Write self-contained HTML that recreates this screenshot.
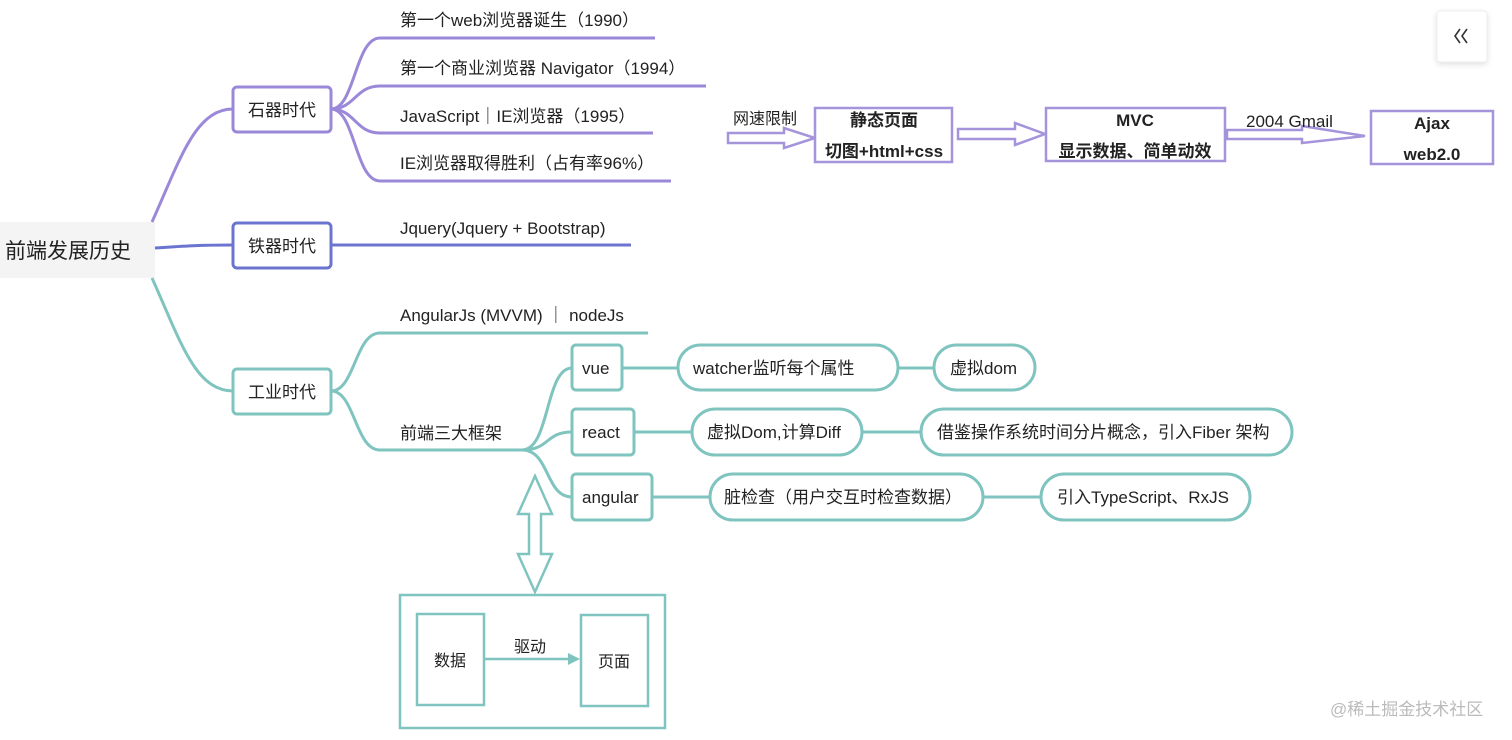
<!DOCTYPE html>
<html><head><meta charset="utf-8"><style>
body{margin:0;width:1512px;height:740px;background:#fff;overflow:hidden}
svg{display:block}
text{font-family:"Liberation Sans","Noto Sans CJK SC",sans-serif;fill:#222}
</style></head><body>
<svg width="1512" height="740" viewBox="0 0 1512 740">
<defs><filter id="sh" x="-30%" y="-30%" width="160%" height="160%"><feDropShadow dx="0" dy="2" stdDeviation="3" flood-color="#000" flood-opacity="0.12"/></filter></defs>
<rect x="0" y="222" width="155" height="56" fill="#f4f4f4"/>
<text x="5" y="258" font-size="21">前端发展历史</text>
<g fill="none" stroke="#9b88d8" stroke-width="3">
<path d="M152,222 C180,160 195,109 233,109"/>
<path d="M331,109 C355,109 355,38 380,38 L655,38"/>
<path d="M331,109 C355,109 355,86 380,86 L706,86"/>
<path d="M331,109 C355,109 355,133 380,133 L653,133"/>
<path d="M331,109 C355,109 355,181 380,181 L671,181"/>
</g>
<rect x="233" y="87" width="98" height="45" rx="4" fill="#fff" stroke="#9b88d8" stroke-width="3"/>
<text x="282" y="116" font-size="17" text-anchor="middle">石器时代</text>
<g font-size="17">
<text x="400" y="26">第一个web浏览器诞生（1990）</text>
<text x="400" y="74">第一个商业浏览器 Navigator（1994）</text>
<text x="400" y="122">JavaScript｜IE浏览器（1995）</text>
<text x="400" y="169">IE浏览器取得胜利（占有率96%）</text>
</g>
<g fill="none" stroke="#6b74cf" stroke-width="3">
<path d="M155,248 C185,246 200,245 233,245"/>
<path d="M331,245 L631,245"/>
</g>
<rect x="233" y="223" width="98" height="45" rx="4" fill="#fff" stroke="#6b74cf" stroke-width="3"/>
<text x="282" y="252" font-size="17" text-anchor="middle">铁器时代</text>
<text x="400" y="234" font-size="17">Jquery(Jquery + Bootstrap)</text>
<g fill="none" stroke="#7fc4bf" stroke-width="3">
<path d="M152,278 C180,340 195,391 233,391"/>
<path d="M331,391 C355,391 355,333 380,333 L648,333"/>
<path d="M331,391 C355,391 355,450 380,450 L522,450"/>
<path d="M522,450 C550,450 545,368 572,368"/>
<path d="M522,450 C550,450 545,432 572,432"/>
<path d="M522,450 C550,450 545,497 572,497"/>
<path d="M622,368 L678,368 M898,368 L934,368"/>
<path d="M634,432 L692,432 M862,432 L921,432"/>
<path d="M652,497 L710,497 M983,497 L1041,497"/>
</g>
<rect x="233" y="369" width="98" height="45" rx="4" fill="#fff" stroke="#7fc4bf" stroke-width="3"/>
<text x="282" y="398" font-size="17" text-anchor="middle">工业时代</text>
<text x="400" y="321" font-size="17">AngularJs (MVVM) ｜ nodeJs</text>
<text x="400" y="439" font-size="17">前端三大框架</text>
<g fill="#fff" stroke="#7fc4bf" stroke-width="3">
<rect x="572" y="345" width="50" height="45" rx="4"/>
<rect x="572" y="409" width="62" height="46" rx="4"/>
<rect x="572" y="474" width="80" height="46" rx="4"/>
<rect x="678" y="345" width="220" height="45" rx="22.5"/>
<rect x="934" y="345" width="101" height="45" rx="22.5"/>
<rect x="692" y="409" width="170" height="46" rx="23"/>
<rect x="921" y="409" width="371" height="46" rx="23"/>
<rect x="710" y="474" width="273" height="46" rx="23"/>
<rect x="1041" y="474" width="209" height="46" rx="23"/>
</g>
<g font-size="17">
<text x="582" y="374">vue</text>
<text x="582" y="438">react</text>
<text x="582" y="503">angular</text>
<text x="693" y="374">watcher监听每个属性</text>
<text x="950" y="374">虚拟dom</text>
<text x="707" y="438">虚拟Dom,计算Diff</text>
<text x="937" y="438">借鉴操作系统时间分片概念，引入Fiber 架构</text>
<text x="724" y="503">脏检查（用户交互时检查数据）</text>
<text x="1057" y="503">引入TypeScript、RxJS</text>
</g>
<path d="M535,476 L552,514 L541,514 L541,554 L552,554 L535,592 L518,554 L529,554 L529,514 L518,514 Z" fill="#fff" stroke="#7fc4bf" stroke-width="2.5"/>
<g fill="none" stroke="#7fc4bf" stroke-width="2.5">
<rect x="400" y="595" width="265" height="133"/>
<rect x="417" y="614" width="67" height="91"/>
<rect x="581" y="615" width="67" height="91"/>
<path d="M484,659 L570,659"/>
</g>
<path d="M580,659 L568,653 L568,665 Z" fill="#7fc4bf"/>
<text x="434" y="666" font-size="16">数据</text>
<text x="598" y="667" font-size="16">页面</text>
<text x="514" y="652" font-size="16">驱动</text>
<text x="733" y="124" font-size="16">网速限制</text>
<g fill="#fff" stroke="#a593dc" stroke-width="2.5">
<path d="M728,133 L784,133 L784,128 L815,138 L784,148 L784,143 L728,143 Z"/>
<path d="M958,129 L1015,129 L1015,123 L1045,134 L1015,145 L1015,139 L958,139 Z"/>
<path d="M1227,130 L1302,130 L1302,126 L1365,136 L1302,143 L1302,139 L1227,139 Z"/>
<rect x="815" y="108" width="137" height="54"/>
<rect x="1046" y="108" width="179" height="53"/>
<rect x="1371" y="111" width="122" height="53"/>
</g>
<g font-size="17" font-weight="bold" text-anchor="middle">
<text x="884" y="126">静态页面</text>
<text x="884" y="157">切图+html+css</text>
<text x="1135" y="126">MVC</text>
<text x="1135" y="157">显示数据、简单动效</text>
<text x="1432" y="129">Ajax</text>
<text x="1432" y="160">web2.0</text>
</g>
<text x="1246" y="127" font-size="17">2004 Gmail</text>
<rect x="1437" y="11" width="50" height="51" rx="3" fill="#fff" stroke="#eee" filter="url(#sh)"/>
<path d="M1460,29 L1455,36 L1460,43 M1467,29 L1462,36 L1467,43" fill="none" stroke="#333" stroke-width="1.6"/>
<text x="1330" y="715" font-size="17" style="fill:#bbb">@稀土掘金技术社区</text>
</svg>
</body></html>
